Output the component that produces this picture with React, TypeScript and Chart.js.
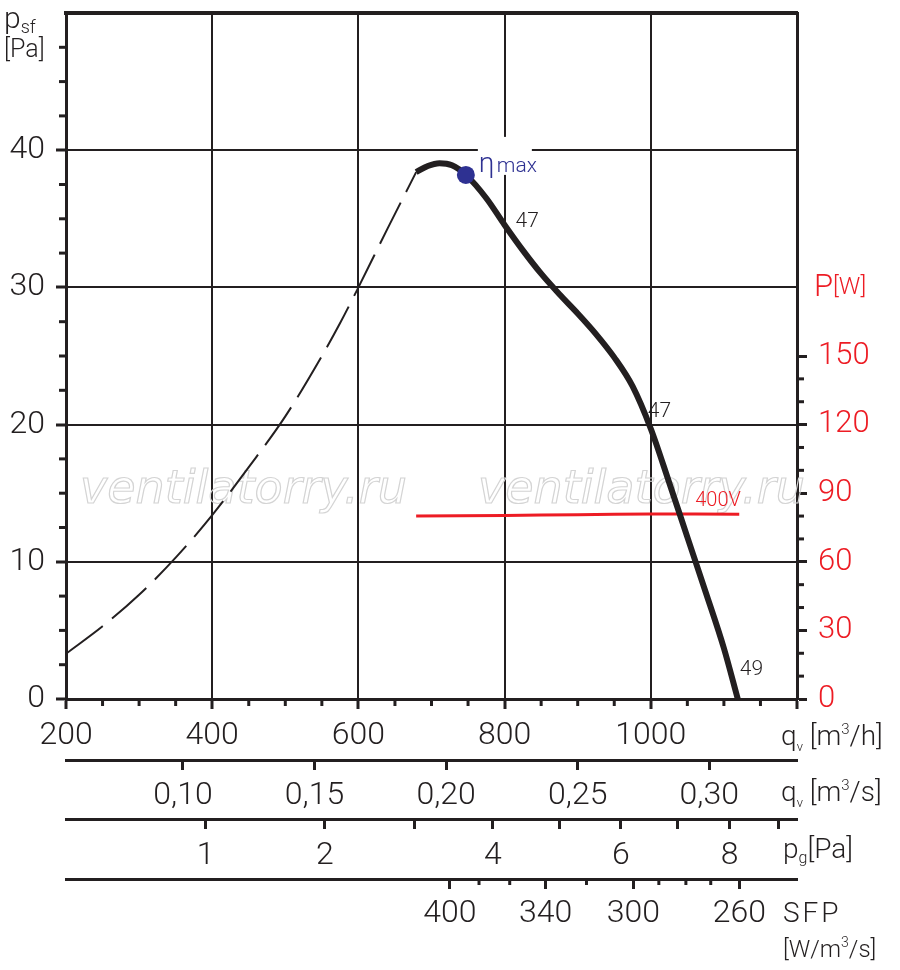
import { useEffect, useRef } from 'react';
import { Chart, registerables } from 'chart.js';

Chart.register(...registerables);

const INK = '#231f20';
const RED = '#ed1c24';
const BLUE = '#2e3192';
const FONT = 'Roboto';

// p_sf over q_v [m3/h], dashed part outside the working range
const dashFlow = [200, 250, 300, 350, 400, 450, 500, 550, 575, 600, 640, 679];
const dashPressure = [3.3, 5.3, 7.6, 10.3, 13.4, 16.9, 20.6, 25.0, 27.4, 30.0, 34.3, 38.4];

// p_sf over q_v [m3/h], working range
const curveFlow = [679, 695, 711, 728, 747, 775, 800, 825, 850, 875, 900, 925, 950, 975, 1000, 1025, 1050, 1075, 1100, 1119];
const curvePressure = [38.4, 38.85, 39.05, 38.9, 38.2, 36.5, 34.55, 32.7, 31.0, 29.5, 28.1, 26.6, 24.9, 22.8, 19.7, 15.8, 11.8, 7.8, 3.7, 0];

// power P [W] at 400V
const powerFlow = [679, 800, 900, 1000, 1121];
const powerWatts = [80.0, 80.3, 80.6, 80.9, 80.8];

// eta max point
const etaFlow = [747];
const etaPressure = [38.2];

// efficiency marks along the curve
const effText = ['47', '47', '49'];
const effFlow = [800, 1000, 1119];
const effPressure = [34.55, 19.7, 0];

// axis ticks
const flowLabels = [200, 400, 600, 800, 1000];
const pressureLabels = [0, 10, 20, 30, 40];
const powerLabels = [0, 30, 60, 90, 120, 150];
const flowSecTicks = [0.1, 0.15, 0.2, 0.25, 0.3];
const dynTicks = [1, 2, 3, 4, 5, 6, 7, 8, 9];
const dynFlow = [391, 554, 677, 784, 875, 959, 1037, 1108, 1175];
const dynLabels = [1, 2, 4, 6, 8];
const sfpTicks = [400, 380, 360, 340, 320, 300, 290, 280, 270, 260];
const sfpFlow = [725, 765, 807, 856, 912, 976, 1011, 1048, 1082, 1121];
const sfpLabels = [400, 340, 300, 260];

const tickFont = { family: FONT, size: 32, weight: '300' as const, lineHeight: 1.2 };

const fixSize = (w?: number, h?: number) => (s: any) => {
  if (w !== undefined) s.width = w;
  if (h !== undefined) s.height = h;
  s.paddingTop = 0;
  s.paddingBottom = 0;
  s.paddingLeft = 0;
  s.paddingRight = 0;
};

// text runs: [text, size, dy]
function drawRich(ctx: CanvasRenderingContext2D, x: number, y: number, parts: [string, number, number][]) {
  let cx = x;
  for (const [t, size, dy] of parts) {
    ctx.font = `300 ${size}px ${FONT}`;
    ctx.fillText(t, cx, y + dy);
    cx += ctx.measureText(t).width;
  }
}

const minorTicks = {
  id: 'minorTicks',
  afterDraw(chart: any) {
    const { ctx, scales } = chart;
    ctx.save();
    ctx.strokeStyle = INK;
    ctx.lineWidth = 3;
    const seg = (x1: number, y1: number, x2: number, y2: number) => {
      ctx.beginPath();
      ctx.moveTo(x1, y1);
      ctx.lineTo(x2, y2);
      ctx.stroke();
    };
    const x = scales.x;
    x.ticks.forEach((t: any) => {
      if (t.value % 200 !== 0) {
        const px = x.getPixelForValue(t.value);
        seg(px, x.top, px, x.top + 7);
      }
    });
    const y = scales.y;
    y.ticks.forEach((t: any) => {
      if (t.value % 10 !== 0) {
        const py = y.getPixelForValue(t.value);
        seg(y.right, py, y.right - 7, py);
      }
    });
    const p = scales.yP;
    p.ticks.forEach((t: any) => {
      if (t.value % 30 !== 0) {
        const py = p.getPixelForValue(t.value);
        seg(p.left, py, p.left + 7, py);
      }
    });
    const s = scales.x4;
    s.ticks.forEach((t: any, i: number) => {
      if (!sfpLabels.includes(sfpTicks[i])) {
        const px = s.getPixelForValue(t.value);
        seg(px, s.top, px, s.top + 6);
      }
    });
    ctx.restore();
  },
};

const annotations = {
  id: 'annotations',
  beforeDatasetsDraw(chart: any) {
    const { ctx, chartArea, scales } = chart;
    ctx.save();
    // watermark
    ctx.font = 'oblique 46px "DejaVu Sans"';
    ctx.strokeStyle = '#d4d4d4';
    ctx.lineWidth = 1.2;
    ctx.textBaseline = 'alphabetic';
    ctx.strokeText('ventilatorry.ru', chartArea.left + 14, chartArea.top + 490);
    ctx.strokeText('ventilatorry.ru', chartArea.left + 412, chartArea.top + 490);
    // clear the grid behind the eta label
    const ex = scales.x.getPixelForValue(etaFlow[0]);
    const ey = scales.y.getPixelForValue(etaPressure[0]);
    ctx.fillStyle = '#ffffff';
    ctx.fillRect(ex + 12, ey - 38, 54, 38);
    ctx.restore();
  },
  afterDatasetsDraw(chart: any) {
    const { ctx, scales } = chart;
    const { x, y, yP } = scales;
    ctx.save();
    ctx.textBaseline = 'alphabetic';
    const ex = x.getPixelForValue(etaFlow[0]);
    const ey = y.getPixelForValue(etaPressure[0]);
    ctx.fillStyle = BLUE;
    drawRich(ctx, ex + 13, ey - 3, [['η', 28, 0]]);
    drawRich(ctx, ex + 31, ey - 3, [['max', 21, 0]]);

    const offsets = [[11, 2], [-3, -12], [2, -24]];
    ctx.fillStyle = INK;
    ctx.font = `300 21px ${FONT}`;
    effText.forEach((t, i) => {
      const px = x.getPixelForValue(effFlow[i]);
      const py = y.getPixelForValue(effPressure[i]);
      ctx.fillText(t, px + offsets[i][0], py + offsets[i][1]);
    });

    const last = powerFlow.length - 1;
    const rx = x.getPixelForValue(powerFlow[last]);
    const ry = yP.getPixelForValue(powerWatts[last]);
    ctx.fillStyle = RED;
    ctx.font = `300 20px ${FONT}`;
    ctx.fillText('400V', rx - 44, ry - 8);
    ctx.restore();
  },
};

const titles = {
  id: 'titles',
  afterDraw(chart: any) {
    const { ctx, scales } = chart;
    ctx.save();
    ctx.textBaseline = 'alphabetic';
    ctx.fillStyle = INK;
    // left axis title
    drawRich(ctx, 4, 28, [['p', 30, 0], ['sf', 18, 5]]);
    drawRich(ctx, 4, 57, [['[Pa]', 25, 0]]);
    // right axis title
    const p = scales.yP;
    ctx.fillStyle = RED;
    drawRich(ctx, p.left + 17, p.getPixelForValue(180) + 9, [['P', 31, 0], ['[W]', 24, -2]]);
    // unit labels beside the flow scales
    ctx.fillStyle = INK;
    const ux = scales.x.right - 16;
    drawRich(ctx, ux, scales.x.top + 46, [['q', 28, 0], ['v', 13, 6], [' [m', 28, 0], ['3', 15, -11], ['/h]', 28, 0]]);
    drawRich(ctx, ux, scales.x2.top + 41, [['q', 28, 0], ['v', 13, 6], [' [m', 28, 0], ['3', 15, -11], ['/s]', 28, 0]]);
    drawRich(ctx, ux + 2, scales.x3.top + 39, [['p', 28, 0], ['g', 16, 5], ['[Pa]', 28, 0]]);
    ctx.letterSpacing = '3px';
    drawRich(ctx, ux + 2, scales.x4.top + 43, [['SFP', 28, 0]]);
    ctx.letterSpacing = '0px';
    drawRich(ctx, ux + 2, scales.x4.top + 78, [['[W/m', 24, 0], ['3', 14, -10], ['/s]', 24, 0]]);
    ctx.restore();
  },
};

export default function App() {
  const chartRef = useRef<HTMLCanvasElement>(null);
  const chartInstance = useRef<Chart | null>(null);

  useEffect(() => {
    document.body.style.margin = '0';
    if (!chartRef.current) return;
    if (chartInstance.current) {
      chartInstance.current.destroy();
    }
    const ctx = chartRef.current.getContext('2d');
    if (!ctx) return;

    const bottomAxis = (weight: number, height: number, padding: number) => ({
      type: 'linear' as const,
      position: 'bottom' as const,
      weight,
      min: 200,
      max: 1200,
      grid: { drawOnChartArea: false, tickLength: 10, tickWidth: 3, tickColor: INK },
      border: { display: true, color: INK, width: 3 },
      afterFit: fixSize(undefined, height),
      ticks: { autoSkip: false, maxRotation: 0, font: tickFont, color: INK, padding },
    });

    const x2 = bottomAxis(2, 59, 7);
    const x3 = bottomAxis(3, 60, 8);
    const x4 = bottomAxis(4, 91, 6);

    chartInstance.current = new Chart(ctx, {
      type: 'line',
      data: {
        datasets: [
          {
            label: 'ηmax',
            data: etaFlow.map((q, i) => ({ x: q, y: etaPressure[i] })),
            showLine: false,
            pointRadius: 9,
            pointBackgroundColor: BLUE,
            pointBorderWidth: 0,
            order: 0,
          },
          {
            label: 'psf',
            data: curveFlow.map((q, i) => ({ x: q, y: curvePressure[i] })),
            borderColor: INK,
            borderWidth: 6,
            pointRadius: 0,
            cubicInterpolationMode: 'monotone',
            order: 1,
          },
          {
            label: 'psf out of range',
            data: dashFlow.map((q, i) => ({ x: q, y: dashPressure[i] })),
            borderColor: INK,
            borderWidth: 2,
            borderDash: [46, 12],
            pointRadius: 0,
            cubicInterpolationMode: 'monotone',
            order: 2,
          },
          {
            label: 'P 400V',
            data: powerFlow.map((q, i) => ({ x: q, y: powerWatts[i] })),
            yAxisID: 'yP',
            borderColor: RED,
            borderWidth: 3,
            pointRadius: 0,
            tension: 0.4,
            order: 3,
          },
        ],
      },
      options: {
        animation: false,
        responsive: false,
        maintainAspectRatio: false,
        layout: { padding: 0 },
        plugins: {
          legend: { display: false },
          tooltip: { enabled: false },
        },
        scales: {
          xTop: {
            type: 'linear',
            position: 'top',
            min: 200,
            max: 1200,
            grid: { display: false },
            ticks: { display: false },
            border: { display: true, color: INK, width: 4 },
            afterFit: fixSize(undefined, 13),
          },
          x: {
            type: 'linear',
            position: 'bottom',
            weight: 1,
            min: 200,
            max: 1200,
            ticks: {
              stepSize: 50,
              autoSkip: false,
              maxRotation: 0,
              font: tickFont,
              color: INK,
              padding: 8,
              callback: (v: any) => (flowLabels.includes(Number(v)) ? String(v) : ''),
            },
            grid: {
              color: (c: any) => (c.tick && c.tick.value % 200 === 0 ? INK : 'transparent'),
              lineWidth: 2,
              tickLength: 10,
              tickWidth: 3,
              tickColor: (c: any) => (c.tick && c.tick.value % 200 === 0 ? INK : 'transparent'),
            },
            border: { display: true, color: INK, width: 3 },
            afterFit: fixSize(undefined, 61),
          },
          x2: {
            ...x2,
            afterBuildTicks: (s: any) => {
              s.ticks = flowSecTicks.map(v => ({ value: v * 3600 }));
            },
            ticks: {
              ...x2.ticks,
              callback: (_v: any, i: number) => flowSecTicks[i].toFixed(2).replace('.', ','),
            },
          },
          x3: {
            ...x3,
            afterBuildTicks: (s: any) => {
              s.ticks = dynFlow.map(v => ({ value: v }));
            },
            ticks: {
              ...x3.ticks,
              callback: (_v: any, i: number) => (dynLabels.includes(dynTicks[i]) ? String(dynTicks[i]) : ''),
            },
          },
          x4: {
            ...x4,
            afterBuildTicks: (s: any) => {
              s.ticks = sfpFlow.map(v => ({ value: v }));
            },
            grid: {
              ...x4.grid,
              tickColor: (c: any) => (sfpLabels.includes(sfpTicks[c.index]) ? INK : 'transparent'),
            },
            ticks: {
              ...x4.ticks,
              callback: (_v: any, i: number) => (sfpLabels.includes(sfpTicks[i]) ? String(sfpTicks[i]) : ''),
            },
          },
          y: {
            type: 'linear',
            position: 'left',
            min: 0,
            max: 50,
            ticks: {
              stepSize: 2.5,
              autoSkip: false,
              font: tickFont,
              color: INK,
              padding: 11,
              callback: (v: any) => (pressureLabels.includes(Number(v)) ? String(v) : ''),
            },
            grid: {
              color: (c: any) => (c.tick && c.tick.value % 10 === 0 && c.tick.value < 50 ? INK : 'transparent'),
              lineWidth: 2,
              tickLength: 10,
              tickWidth: 3,
              tickColor: (c: any) => (c.tick && c.tick.value % 10 === 0 && c.tick.value < 50 ? INK : 'transparent'),
            },
            border: { display: true, color: INK, width: 3 },
            afterFit: fixSize(66),
          },
          yP: {
            type: 'linear',
            position: 'right',
            min: 0,
            max: 300,
            afterBuildTicks: (s: any) => {
              s.ticks = s.ticks.filter((t: any) => t.value <= 150);
            },
            ticks: {
              stepSize: 10,
              autoSkip: false,
              font: { ...tickFont, size: 31 },
              color: RED,
              padding: 11,
              callback: (v: any) => (powerLabels.includes(Number(v)) ? String(v) : ''),
            },
            grid: {
              drawOnChartArea: false,
              tickLength: 10,
              tickWidth: 3,
              tickColor: (c: any) => (c.tick && c.tick.value % 30 === 0 ? INK : 'transparent'),
            },
            border: { display: true, color: INK, width: 3 },
            afterFit: fixSize(103),
          },
        },
      } as any,
      plugins: [annotations, minorTicks, titles],
    });

    return () => {
      if (chartInstance.current) {
        chartInstance.current.destroy();
        chartInstance.current = null;
      }
    };
  }, []);

  return (
    <div style={{ width: 900, height: 970, background: '#ffffff' }}>
      <canvas ref={chartRef} width={900} height={970} style={{ display: 'block' }} />
    </div>
  );
}
